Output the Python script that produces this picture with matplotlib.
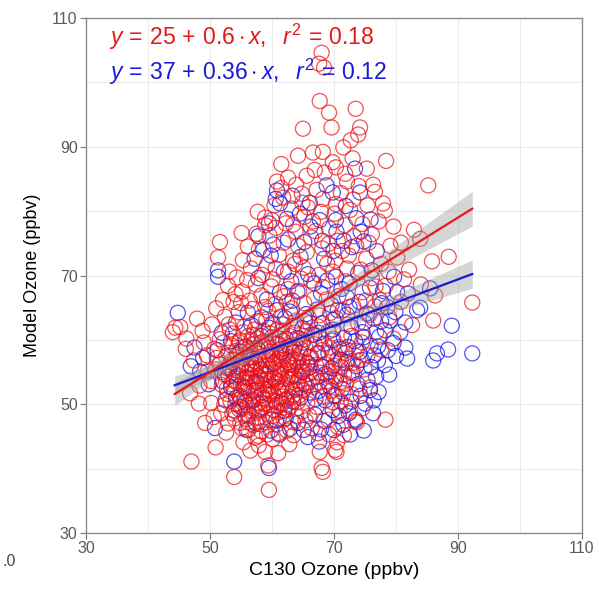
import matplotlib
matplotlib.use("Agg")
import matplotlib.pyplot as plt
import numpy as np

plt.rcParams['font.family'] = ['Liberation Sans', 'DejaVu Sans']
plt.rcParams['mathtext.fontset'] = 'custom'
plt.rcParams['mathtext.rm'] = 'Liberation Sans'
plt.rcParams['mathtext.it'] = 'Liberation Sans:italic'

# ---------------- data ----------------
red_pts = [
    # upper scatter
    (68.0,104.6),(67.6,102.9),(68.4,102.3),(67.7,97.1),(69.2,95.3),(73.5,95.9),(69.6,93.0),(74.2,93.0),
    (73.9,91.9),(65.0,92.8),(66.6,89.1),(68.2,89.2),(69.8,87.6),(78.4,87.8),(76.3,84.1),(85.2,84.0),
    (65.6,85.5),(62.6,85.2),(60.8,84.6),(61.5,83.6),(68.5,86.0),(71.8,85.8),(75.3,86.6),(73.0,88.2),
    (76.6,83.0),(68.2,81.9),(71.1,82.8),(74.0,83.9),(77.9,81.2),(78.2,80.1),(64.8,82.7),(64.9,81.3),
    (65.8,80.6),(63.1,80.4),(58.9,79.0),(58.9,77.8),(51.6,75.2),(51.3,72.8),(54.3,69.7),(56.1,74.5),
    (57.5,76.5),(59.6,76.2),(62.2,78.1),(66.6,78.4),(70.1,79.6),(72.6,80.2),(74.6,78.0),(76.1,76.4),
    (73.2,76.1),(70.6,75.4),(68.1,74.2),(64.2,74.6),(61.1,73.2),(59.2,71.6),(56.6,71.1),(57.4,68.6),
    (60.1,69.4),(62.6,70.6),(65.1,71.2),(67.6,70.1),(70.2,72.3),(72.4,73.1),(75.2,72.6),(77.6,71.8),
    (79.1,74.6),(80.2,72.8),(82.9,77.1),(83.9,75.7),(88.5,72.9),(85.8,72.2),(92.3,65.8),(86.3,66.9),
    (86.0,63.0),(63.8,76.8),(66.3,75.9),(69.2,77.3),(71.8,77.8),(60.4,80.9),(67.2,83.3),(62.0,66.8),
    (55.3,72.4),(57.9,74.1),(60.6,77.4),(61.9,75.1),(63.4,72.3),(65.6,73.6),(67.0,76.9),(69.1,74.9),
    (71.3,73.8),(73.6,74.6),(75.6,75.1),(74.3,70.9),(72.1,71.1),(68.9,71.8),(66.3,69.2),(63.7,71.8),
    (60.6,71.1),(58.4,70.1),(56.0,69.3),(53.1,70.6),(55.1,76.6),(57.7,79.9),(60.0,78.6),(63.4,77.9),
    (65.2,79.1),(67.9,79.9),(70.3,81.1),(73.1,81.8),(75.4,80.9),(72.1,84.6),(70.3,86.8),(66.9,86.4),
    (63.9,84.1),(61.8,82.1),(77.2,78.4),(79.6,77.6),(80.8,75.1),(78.8,70.6),(76.7,68.3),(82.1,70.9),
    (61.5,87.3),(64.2,88.6),(71.5,89.9),(72.7,91.0),
    # band 58-70
    (50.3,62.4),(52.4,63.6),(53.8,65.9),(55.2,67.5),(52.9,68.4),(55.6,62.1),(56.9,64.8),(58.3,66.9),
    (59.1,63.2),(60.6,65.6),(61.8,62.4),(63.2,64.9),(64.4,67.6),(65.9,63.5),(66.8,66.4),(68.2,68.2),
    (69.4,64.2),(70.7,66.8),(71.9,69.1),(73.1,65.3),(74.6,67.4),(76.1,69.6),(77.4,66.2),(72.2,62.4),
    (69.1,61.3),(66.4,60.8),(63.6,61.1),(61.2,60.2),(58.6,61.4),(56.2,60.6),(53.7,61.0),(51.6,60.1),
    (54.6,64.3),(57.6,62.9),(62.6,67.9),(67.4,62.1),(70.3,63.4),(75.7,63.9),(78.3,68.4),(59.9,68.3),
    (64.7,69.5),(69.8,70.6),(52.1,66.2),(48.8,61.4),(47.9,63.3),
    (51.0,64.9),(53.0,62.4),(55.0,65.7),(57.2,61.6),(59.4,64.5),(61.4,63.6),(63.9,63.0),(65.2,65.7),
    (67.6,63.8),(68.8,66.3),(71.4,64.6),(73.9,62.6),(75.1,66.1),(76.6,65.2),(54.1,67.1),(56.4,66.1),
    (58.9,65.1),(60.9,61.6),(62.4,65.9),(66.1,62.6),(69.9,60.2),(72.8,60.6),(74.5,59.6),(75.4,57.6),
    (74.9,55.4),(74.1,52.4),
    (53.2,61.6),(55.4,61.2),(57.7,60.2),(59.7,61.0),(61.6,61.4),(63.5,62.2),(65.6,61.4),(67.9,60.2),
    # dense core
    (53.5,59.1),(55.2,58.8),(57.1,59.3),(58.8,58.9),(60.4,59.4),(62.1,58.7),(63.8,59.2),(65.4,58.8),
    (52.6,57.4),(54.4,57.7),(56.2,57.3),(57.9,57.8),(59.6,57.2),(61.3,57.6),(63.0,57.3),(64.6,57.9),(66.3,57.4),
    (53.1,56.1),(54.9,55.8),(56.7,56.3),(58.4,55.9),(60.1,56.2),(61.8,55.7),(63.5,56.1),(65.1,55.9),
    (52.4,54.6),(54.2,54.3),(56.0,54.8),(57.7,54.4),(59.4,54.7),(61.1,54.2),(62.8,54.6),(64.4,54.3),(66.0,54.7),
    (53.4,53.1),(55.3,52.8),(57.1,53.2),(58.9,52.9),(60.6,53.3),(62.3,52.8),(64.0,53.1),(65.6,52.9),
    (52.8,51.6),(54.8,51.3),(56.6,51.7),(58.4,51.4),(60.2,51.6),(61.9,51.2),(63.6,51.5),
    (54.1,50.1),(56.0,49.8),(57.8,50.2),(59.6,49.9),(61.3,50.3),(63.0,49.7),
    (53.6,48.6),(55.6,48.3),(57.6,48.7),(59.4,48.4),(61.1,48.8),
    (54.9,47.1),(57.0,46.8),(59.0,47.2),(60.8,46.9),
    (56.3,58.1),(58.0,57.0),(59.8,58.2),(61.6,56.9),(57.3,55.1),(59.1,56.1),(60.9,55.0),(62.6,55.3),
    (56.4,53.9),(58.2,53.8),(59.9,53.6),(61.7,53.9),(57.5,52.2),(59.3,52.3),(61.1,52.1),(55.5,50.8),
    (58.6,50.9),(60.4,50.7),(62.4,50.9),(58.0,49.1),(56.8,55.6),(62.2,58.0),(64.9,56.6),(54.0,56.9),
    (55.6,53.3),(63.2,51.1),(60.0,60.4),(57.0,60.8),(62.8,60.6),(54.8,59.9),(64.4,60.2),
    (54.3,58.3),(56.0,58.6),(57.8,58.4),(59.5,58.8),(61.2,58.5),(62.9,58.9),(64.6,58.6),
    (53.6,56.9),(55.4,57.1),(57.2,56.7),(58.9,57.0),(60.7,56.6),(62.4,57.0),(64.2,56.8),(65.8,56.3),
    (52.9,55.5),(54.6,55.2),(56.4,55.6),(58.1,55.2),(59.8,55.5),(61.5,55.3),(63.2,55.6),(64.9,55.0),
    (53.8,53.7),(55.6,54.1),(57.3,53.6),(59.1,53.9),(60.8,53.5),(62.5,53.9),(64.2,53.6),(65.9,53.4),
    (53.9,52.3),(55.9,52.1),(57.8,52.5),(59.7,52.0),(61.5,52.4),(63.3,52.1),(65.0,52.2),
    (55.0,50.9),(56.9,50.5),(58.7,50.9),(60.6,50.4),(62.3,50.6),(64.1,50.3),
    (54.7,49.2),(56.7,49.0),(58.5,49.4),(60.3,49.1),(62.1,49.5),
    (55.8,47.7),(57.9,47.9),(59.9,47.6),(56.2,46.0),(58.3,45.8),(60.1,44.6),
    (52.2,59.6),(51.6,56.2),(51.9,53.0),(52.3,49.9),(66.9,59.3),(67.1,56.1),(66.7,52.7),(65.7,50.1),
    (63.9,48.2),
    (53.0,58.0),(54.7,59.6),(56.6,59.8),(58.3,59.6),(60.0,57.8),(61.8,59.9),(63.4,58.0),(65.0,60.0),
    (52.0,55.0),(53.7,55.0),(55.9,56.0),(57.5,56.4),(59.3,57.6),(61.0,57.0),(62.7,56.5),(64.4,55.6),
    (66.2,55.8),(52.7,52.4),(54.5,53.4),(56.2,52.6),(58.0,54.1),(59.8,52.8),(61.4,54.6),(63.1,54.2),
    (64.7,52.6),(53.3,50.5),(55.2,49.5),(57.1,49.6),(58.9,50.1),(60.8,49.8),(62.6,49.2),(64.4,51.4),
    (54.0,47.8),(56.1,47.2),(58.2,46.9),(60.2,48.2),(61.9,47.6),(57.3,44.8),(59.2,45.3),
    (50.7,58.6),(49.5,57.6),(50.9,55.4),(50.2,53.6),
    # right red cluster
    (67.4,57.8),(68.6,56.2),(69.9,57.4),(71.2,55.8),(72.4,57.1),(70.4,54.3),(68.9,53.6),(71.9,53.2),
    (73.2,54.8),(69.6,52.1),(72.8,51.6),(67.8,54.9),(70.8,58.9),(73.6,58.3),(68.2,51.2),(71.1,50.4),
    (70.0,56.0),(71.6,54.6),(69.2,55.0),(72.0,58.4),
    (68.0,58.4),(69.3,58.8),(70.6,57.0),(71.8,57.9),(73.0,56.4),(69.0,54.4),(70.9,53.4),(72.3,54.4),
    (70.2,51.4),(68.5,52.7),(67.6,53.4),(73.9,56.8),(71.5,51.7),(69.8,50.3),(67.2,49.6),(66.0,48.2),
    # lower / left outliers
    (44.0,61.2),(44.4,61.9),(45.2,62.0),(46.2,60.2),(46.8,51.7),(47.0,41.1),(50.9,43.3),(53.9,38.7),
    (56.5,42.8),(59.5,36.7),(59.4,40.5),(61.0,42.4),(58.9,42.6),(49.2,47.1),(55.1,46.3),(61.0,45.5),
    (66.4,46.3),(67.7,42.6),(68.0,40.1),(68.2,39.5),(70.4,42.6),(73.4,47.3),(70.6,46.5),(67.4,45.5),
    (69.1,47.6),(71.6,45.2),(73.7,47.2),(70.5,44.1),(70.2,42.9),(75.8,52.6),(78.3,47.6),(63.4,47.2),
    (64.9,48.9),(51.8,48.6),(50.2,50.2),(48.3,52.9),(49.6,55.1),(51.1,57.2),(47.4,56.8),(46.1,58.6),
    (49.0,59.6),(62.4,45.9),(57.8,45.1),(52.6,45.6),
    (65.4,47.5),(63.5,45.2),(69.2,45.3),(72.6,48.9),(70.9,49.0),(74.6,49.4),(48.2,50.1),(50.6,48.0),
    (52.9,47.0),(57.9,43.6),(62.8,43.8),(55.4,44.1),
    # near the fitted lines, right side
    (76.8,61.2),(78.9,63.5),(80.8,65.9),(82.6,62.3),(77.6,58.5),(79.6,60.2),(84.0,68.6),(81.3,69.4),
]

blue_pts = [
    (44.8,64.2),(46.9,55.9),(51.3,70.8),(51.3,69.8),(50.8,46.3),(53.9,41.1),(59.5,40.1),(55.9,46.0),
    (61.2,45.3),(89.0,62.2),(92.3,57.9),(88.4,58.5),(86.0,56.8),(86.6,57.9),(81.5,58.8),(81.8,57.1),
    (81.5,62.7),(83.4,64.6),(85.5,68.0),(80.2,67.4),(81.9,67.2),(83.9,65.0),(79.0,63.0),(77.7,65.7),
    (77.1,56.8),(75.8,52.2),(73.4,86.6),(68.8,84.0),(69.8,82.9),(74.2,82.9),(60.8,83.2),(60.6,81.9),
    (61.3,81.2),(62.4,78.8),
    (66.2,77.6),(70.4,76.8),(72.9,74.4),(68.4,72.6),(64.6,72.9),(60.2,74.8),(57.2,72.6),(74.8,75.3),
    (76.9,73.8),(63.1,69.1),(66.8,68.8),(71.2,67.9),(73.9,70.4),(59.2,66.3),(56.1,64.2),(53.4,59.8),
    (51.2,58.4),(48.9,57.2),(47.5,58.8),
    (62.1,63.4),(64.9,61.8),(67.3,64.7),(69.8,61.6),(72.1,63.9),(74.6,61.2),(76.4,63.3),(78.2,61.5),
    (63.6,58.7),(66.1,57.3),(68.4,59.4),(70.9,58.6),(73.4,59.8),(75.9,59.1),(78.7,58.4),(64.8,55.1),
    (67.2,54.2),(69.6,55.6),(72.0,56.4),(74.5,56.9),(76.8,54.3),(66.0,51.8),(68.6,50.6),(71.3,52.4),
    (73.8,53.1),(63.4,50.4),(61.0,52.6),(58.4,49.6),(56.1,48.4),(54.2,51.0),(52.0,53.6),(55.1,56.1),
    (57.6,58.8),(60.2,56.4),(62.3,60.1),(59.5,61.9),(66.9,48.4),(64.2,47.1),(69.8,49.1),(72.4,48.6),
    (75.0,50.1),(71.5,46.8),(67.9,46.1),(62.0,49.0),(54.6,54.5),(52.5,50.6),(57.5,53.4),(60.7,47.5),
    (65.8,44.9),(74.1,65.9),(70.3,69.8),(77.9,67.6),
    (58.3,63.5),(60.8,64.6),(63.3,66.1),(65.5,64.0),(68.1,62.6),(70.6,64.6),(72.8,62.0),(75.3,64.1),
    (77.3,60.5),(79.6,59.5),(80.7,61.2),(64.1,60.3),(66.8,60.8),(69.1,57.9),(71.6,60.3),(74.1,58.1),
    (76.5,57.6),(78.2,56.1),(65.7,56.4),(68.0,55.9),(70.3,53.8),(72.9,54.9),(75.4,53.8),(77.2,51.9),
    (65.2,53.2),(67.6,52.1),(70.0,51.3),(72.8,50.4),(63.8,52.3),(61.6,50.1),(59.6,51.5),(57.0,50.7),
    (55.5,52.6),(53.4,52.6),(53.2,55.7),(56.6,57.3),(59.1,59.6),(61.5,58.1),(62.8,56.2),(60.4,54.0),
    (58.2,55.4),(56.0,54.2),(54.9,49.6),(57.4,47.1),(59.8,45.9),(62.9,46.2),(68.4,47.4),(70.8,48.2),
    (73.5,47.6),(74.8,45.9),(76.3,48.6),(57.8,69.6),(61.3,67.4),(64.1,67.5),(67.9,67.2),(69.6,65.4),
    (72.1,66.6),(75.8,68.1),(78.6,65.1),(57.8,76.1),(59.8,73.1),(62.6,75.6),(65.2,75.2),(67.7,78.6),
    (69.9,73.8),(71.6,75.4),(73.6,78.9),(75.9,78.7),(71.9,80.8),(66.1,81.3),(63.3,82.4),(58.6,74.0),
    (54.9,58.2),(51.9,61.1),(49.8,53.1),(48.4,55.1),
    (60.1,62.6),(62.9,64.4),(65.3,62.9),(67.5,61.1),(69.9,63.1),(72.5,65.1),(74.9,62.7),(77.6,62.9),
    (79.9,64.3),(62.7,59.0),(65.0,59.6),(67.4,58.0),(69.8,59.9),(72.3,58.9),(74.8,60.4),(77.1,59.0),
    (80.0,57.5),(63.5,54.4),(66.0,55.7),(68.6,54.7),(71.1,56.9),(73.6,55.9),(76.0,55.8),(78.9,54.6),
    (64.6,51.0),(67.0,50.8),(69.3,52.8),(71.8,49.8),(74.3,51.3),(76.4,50.6),(62.2,47.8),(65.1,46.0),
    (67.6,44.2),(70.0,46.0),(72.6,45.3),(58.9,54.6),(57.1,52.1),(55.7,50.3),(53.9,49.0),(53.0,54.3),
    (55.8,59.0),(58.3,60.6),(60.9,59.4),(56.7,62.3),(54.2,62.7),(61.9,70.6),(65.8,70.2),(68.9,69.2),
    (72.5,68.8),(76.1,70.8),(79.7,69.8),(59.5,78.1),(64.5,79.6),(70.3,78.6),(74.3,76.8),(68.1,75.4),
]

# fitted lines: intercept, slope, r^2
red_fit = (25, 0.6, 0.18)
blue_fit = (37, 0.36, 0.12)
fit_range = (44.3, 92.3)
# confidence band: half-width at centre x, centre x, half-width at right end
red_band = (0.55, 63.0, 2.7)
blue_band = (0.45, 63.0, 2.2)

x_ticks = [30, 50, 70, 90, 110]
y_ticks = [30, 50, 70, 90, 110]

# ---------------- plotting ----------------
fig = plt.figure(figsize=(5.99, 5.90), dpi=100)
ax = fig.add_axes([86/599, 1-533/590, (582-86)/599, (533-18)/590])
ax.set_xlim(30, 110)
ax.set_ylim(30, 110)
ax.set_xticks(x_ticks)
ax.set_yticks(y_ticks)
ax.set_xticks([40, 60, 80, 100], minor=True)
ax.set_yticks([40, 60, 80, 100], minor=True)
ax.grid(True, which='both', color='#ebebeb', linewidth=0.8)
ax.set_axisbelow(True)
ax.tick_params(which='minor', length=0)
ax.tick_params(which='major', length=4, color='#777777', width=0.8,
               labelsize=11.5, labelcolor='#5a5a5a', pad=2)
for s in ax.spines.values():
    s.set_color('#8c8c8c')
    s.set_linewidth(1.0)

bx, by = zip(*blue_pts)
rx, ry = zip(*red_pts)
ax.scatter(bx, by, s=118, facecolors='none', edgecolors='#1010ee', linewidths=0.9, alpha=0.72, zorder=2)
ax.scatter(rx, ry, s=118, facecolors='none', edgecolors='#ee1010', linewidths=0.9, alpha=0.72, zorder=3)

xs = np.linspace(fit_range[0], fit_range[1], 100)
for fit, band, col in [(blue_fit, blue_band, '#1a1ad0'), (red_fit, red_band, '#e81818')]:
    a, b, _ = fit
    h0, xm, h1 = band
    k = (h1**2 - h0**2) / (fit_range[1] - xm)**2
    h = np.sqrt(h0**2 + k * (xs - xm)**2)
    yl = a + b * xs
    ax.fill_between(xs, yl - h, yl + h, color='#999999', alpha=0.4, linewidth=0, zorder=4)
    ax.plot(xs, yl, color=col, linewidth=1.6, zorder=5)

eq = r'$y\,=\,%g\,+\,%g\cdot x,\ \ r^2\,=\,%.2f$'
ax.text(0.046, 0.963, eq % red_fit, transform=ax.transAxes, color='#e41a1a',
        fontsize=16.6, va='center', ha='left', zorder=6)
ax.text(0.046, 0.895, eq % blue_fit, transform=ax.transAxes, color='#1a1ad8',
        fontsize=16.6, va='center', ha='left', zorder=6)

ax.set_xlabel('C130 Ozone (ppbv)', fontsize=14, color='black', labelpad=4)
ax.set_ylabel('Model Ozone (ppbv)', fontsize=13, color='black', labelpad=8)

fig.text(2/599, 1-561/590, '.0', fontsize=11.5, color='#444444', ha='left', va='center')

fig.savefig('out.png', dpi=100)
